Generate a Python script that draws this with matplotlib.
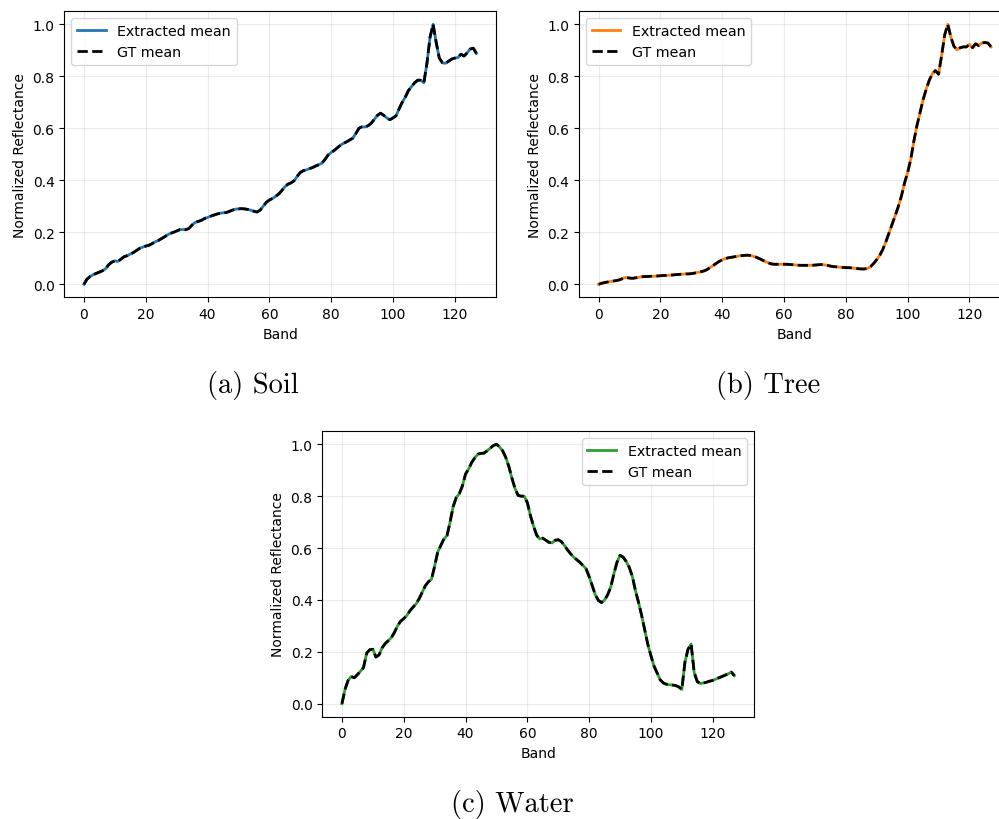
import matplotlib
matplotlib.use("Agg")
import matplotlib.pyplot as plt
import numpy as np

bands = list(range(128))

soil_gt = [
    0.0, 0.02, 0.03, 0.037, 0.042, 0.047, 0.052, 0.06, 0.075, 0.085,
    0.09, 0.088, 0.097, 0.106, 0.11, 0.116, 0.122, 0.13, 0.138, 0.143,
    0.147, 0.15, 0.156, 0.163, 0.168, 0.175, 0.182, 0.19, 0.196, 0.2,
    0.205, 0.21, 0.211, 0.21, 0.215, 0.228, 0.238, 0.242, 0.246, 0.253,
    0.257, 0.262, 0.266, 0.27, 0.273, 0.275, 0.276, 0.28, 0.285, 0.289,
    0.29, 0.291, 0.29, 0.288, 0.285, 0.281, 0.278, 0.285, 0.3, 0.315,
    0.324, 0.33, 0.338, 0.347, 0.36, 0.375, 0.385, 0.39, 0.398, 0.415,
    0.43, 0.437, 0.44, 0.445, 0.449, 0.455, 0.46, 0.466, 0.48, 0.497,
    0.507, 0.515, 0.525, 0.535, 0.542, 0.548, 0.555, 0.562, 0.58, 0.6,
    0.606, 0.605, 0.61, 0.62, 0.635, 0.65, 0.658, 0.65, 0.64, 0.633,
    0.64, 0.648, 0.675, 0.7, 0.72, 0.745, 0.76, 0.775, 0.785, 0.785,
    0.775, 0.85, 0.95, 1.0, 0.93, 0.87, 0.852, 0.85, 0.858, 0.866,
    0.87, 0.872, 0.885, 0.878, 0.89, 0.905, 0.908, 0.888,
]
soil_ext = list(soil_gt)

tree_gt = [
    0.0, 0.004, 0.007, 0.009, 0.011, 0.013, 0.015, 0.018, 0.024, 0.026,
    0.024, 0.023, 0.025, 0.027, 0.029, 0.03, 0.03, 0.031, 0.031, 0.032,
    0.033, 0.034, 0.034, 0.035, 0.036, 0.037, 0.038, 0.039, 0.04, 0.04,
    0.041, 0.043, 0.046, 0.048, 0.051, 0.056, 0.064, 0.072, 0.08, 0.088,
    0.094, 0.099, 0.102, 0.104, 0.106, 0.108, 0.11, 0.111, 0.112, 0.111,
    0.108, 0.104, 0.099, 0.093, 0.087, 0.082, 0.078, 0.077, 0.077, 0.077,
    0.077, 0.077, 0.076, 0.075, 0.074, 0.073, 0.073, 0.073, 0.073, 0.073,
    0.074, 0.075, 0.076, 0.075, 0.073, 0.07, 0.068, 0.067, 0.066, 0.065,
    0.064, 0.064, 0.063, 0.061, 0.06, 0.059, 0.059, 0.061, 0.068, 0.08,
    0.095, 0.112, 0.135, 0.165, 0.198, 0.23, 0.265, 0.3, 0.34, 0.39,
    0.43, 0.48, 0.55, 0.61, 0.66, 0.71, 0.75, 0.785, 0.81, 0.822,
    0.808, 0.88, 0.96, 1.0, 0.95, 0.915, 0.902, 0.91, 0.913, 0.913,
    0.923, 0.91, 0.925, 0.918, 0.928, 0.93, 0.928, 0.913,
]
tree_ext = list(tree_gt)

water_gt = [
    0.0, 0.055, 0.09, 0.105, 0.1, 0.112, 0.125, 0.14, 0.195, 0.208,
    0.21, 0.18, 0.188, 0.215, 0.232, 0.243, 0.255, 0.275, 0.3, 0.318,
    0.328, 0.34, 0.358, 0.372, 0.385, 0.405, 0.43, 0.455, 0.47, 0.48,
    0.53, 0.585, 0.61, 0.635, 0.648, 0.7, 0.76, 0.795, 0.81, 0.84,
    0.885, 0.905, 0.93, 0.948, 0.962, 0.965, 0.966, 0.975, 0.985, 0.995,
    1.0, 0.99, 0.975, 0.95, 0.915, 0.87, 0.83, 0.803, 0.8, 0.8,
    0.775, 0.725, 0.685, 0.65, 0.635, 0.638, 0.63, 0.622, 0.62, 0.63,
    0.632, 0.625, 0.61, 0.593, 0.578, 0.565, 0.555, 0.545, 0.533, 0.52,
    0.49, 0.455, 0.42, 0.398, 0.39, 0.4, 0.42, 0.45, 0.5, 0.545,
    0.572, 0.565, 0.548, 0.525, 0.49, 0.435, 0.39, 0.34, 0.285, 0.228,
    0.185, 0.145, 0.118, 0.092, 0.08, 0.075, 0.073, 0.072, 0.07, 0.065,
    0.055, 0.16, 0.21, 0.23, 0.12, 0.085, 0.078, 0.08, 0.083, 0.087,
    0.09, 0.095, 0.1, 0.105, 0.11, 0.115, 0.122, 0.108,
]
water_ext = list(water_gt)

captions = ["(a) Soil", "(b) Tree", "(c) Water"]
colors = ["#1f77b4", "#ff7f0e", "#2ca02c"]
legend_locs = ["upper left", "upper left", "upper right"]

fig = plt.figure(figsize=(9.99, 8.2), dpi=100)
W, H = 999.0, 820.0

rects = [
    [64.3 / W, 1 - 298.3 / H, 431.7 / W, 286.0 / H],
    [579.0 / W, 1 - 298.3 / H, 431.7 / W, 286.0 / H],
    [322.3 / W, 1 - 717.7 / H, 431.7 / W, 285.4 / H],
]
cap_pos = [(253 / W, 1 - 386 / H), (768.5 / W, 1 - 386 / H), (512 / W, 1 - 805 / H)]

series = [(soil_ext, soil_gt), (tree_ext, tree_gt), (water_ext, water_gt)]

for i, (ext, gt) in enumerate(series):
    ax = fig.add_axes(rects[i])
    ax.plot(bands, ext, color=colors[i], lw=2, label="Extracted mean")
    ax.plot(bands, gt, color="black", lw=2, ls=(0, (3.7, 1.6)), label="GT mean")
    ax.set_xlabel("Band", fontsize=10)
    ax.set_ylabel("Normalized Reflectance", fontsize=10)
    ax.set_xticks([0, 20, 40, 60, 80, 100, 120])
    ax.set_yticks([0.0, 0.2, 0.4, 0.6, 0.8, 1.0])
    ax.tick_params(labelsize=10)
    ax.grid(True, color="#b0b0b0", alpha=0.25, lw=0.8)
    ax.legend(loc=legend_locs[i], fontsize=10.3)
    fig.text(cap_pos[i][0], cap_pos[i][1], captions[i], ha="center", va="center",
             fontsize=20.5, family="cmr10")

fig.savefig("out.png", dpi=100)
